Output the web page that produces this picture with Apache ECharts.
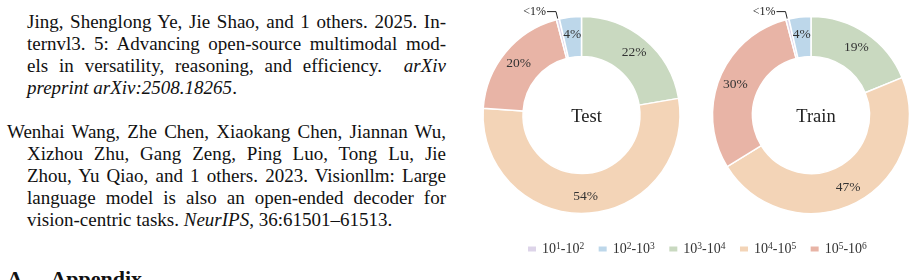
<!DOCTYPE html>
<html>
<head>
<meta charset="utf-8">
<script src="https://cdn.jsdelivr.net/npm/echarts@6/dist/echarts.min.js"></script>
<style>
  html, body { margin: 0; padding: 0; background: #fff; }
  body { width: 915px; height: 280px; position: relative; overflow: hidden; }
  .txt { position: absolute; font-family: "Liberation Serif", "Times New Roman", serif; font-size: 19px; color: #111; }
  .ln { height: 22px; line-height: 22px; white-space: nowrap; text-align: justify; text-align-last: justify; }
  .ln.last { text-align-last: left; }
  .ln.indent { margin-left: 20px; }
  #heading { position: absolute; left: 7px; top: 266px; font-family: "Liberation Serif", serif; font-weight: bold; font-size: 22px; color: #111; white-space: nowrap; }
  #chart { position: absolute; left: 460px; top: 0; width: 455px; height: 280px; }
</style>
</head>
<body>
<div class="txt" style="left:27px; top:11px; width:419px;">
  <div class="ln">Jing, Shenglong Ye, Jie Shao, and 1 others. 2025. In-</div>
  <div class="ln">ternvl3. 5: Advancing open-source multimodal mod-</div>
  <div class="ln">els in versatility, reasoning, and efficiency. &nbsp;<i>arXiv</i></div>
  <div class="ln last"><i>preprint arXiv:2508.18265</i>.</div>
</div>
<div class="txt" style="left:7px; top:121px; width:439px;">
  <div class="ln">Wenhai Wang, Zhe Chen, Xiaokang Chen, Jiannan Wu,</div>
  <div class="ln indent">Xizhou Zhu, Gang Zeng, Ping Luo, Tong Lu, Jie</div>
  <div class="ln indent">Zhou, Yu Qiao, and 1 others. 2023. Visionllm: Large</div>
  <div class="ln indent">language model is also an open-ended decoder for</div>
  <div class="ln indent last">vision-centric tasks. <i>NeurIPS</i>, 36:61501–61513.</div>
</div>
<div id="heading">A&nbsp;&nbsp;&nbsp;&nbsp;&nbsp;Appendix</div>
<div id="chart"></div>
<script>
// ---- data ----
const categories = ['10^1-10^2', '10^2-10^3', '10^3-10^4', '10^4-10^5', '10^5-10^6'];
const testValues = [0.5, 3.6, 22.3, 53.8, 19.8];
const trainValues = [0.5, 3.6, 18.8, 47.4, 29.7];
const panelTitles = ['Test', 'Train'];
const colors = ['#ddd4e9', '#bdd7ea', '#c9d9c0', '#f3d4b7', '#e8b4a6'];
// clockwise drawing order starting at 12 o'clock
const drawOrder = [2, 3, 4, 0, 1];

const FONT = '"Liberation Serif", "Times New Roman", serif';
const centers = [[121.5, 115], [351, 115]];

function buildData(values) {
  return drawOrder.map(i => {
    const item = { name: categories[i], value: values[i], itemStyle: { color: colors[i] } };
    if (values[i] < 1) {
      item.label = { show: true, position: 'outside', fontSize: 12, color: '#222', distanceToLabelLine: 1 };
      item.labelLine = { show: true, length: 8, length2: 9, smooth: false, lineStyle: { color: '#222', width: 1 } };
    }
    return item;
  });
}

const series = [testValues, trainValues].map((vals, k) => ({
  type: 'pie',
  center: centers[k],
  radius: [58.5, 98.5],
  startAngle: 90,
  clockwise: true,
  avoidLabelOverlap: false,
  silent: true,
  itemStyle: { borderColor: '#fff', borderWidth: 1.5 },
  label: {
    show: true,
    position: 'inside',
    fontFamily: FONT,
    fontSize: 13.5,
    color: '#333',
    formatter: p => (p.value < 1 ? '<1%' : Math.round(p.value) + '%')
  },
  labelLine: { show: false },
  emphasis: { disabled: true },
  data: buildData(vals)
}));

const chart = echarts.init(document.getElementById('chart'), null, { renderer: 'canvas' });
chart.setOption({
  animation: false,
  textStyle: { fontFamily: FONT },
  title: panelTitles.map((t, k) => ({
    text: t,
    left: centers[k][0],
    top: centers[k][1] - 12,
    textAlign: 'center',
    textStyle: { fontFamily: FONT, fontSize: 18.5, fontWeight: 'normal', color: '#222' }
  })),
  legend: {
    data: categories,
    left: 61,
    top: 236,
    itemWidth: 10,
    itemHeight: 7,
    itemGap: 12.5,
    icon: 'rect',
    selectedMode: false,
    formatter: name => name.replace(/\^(\d)/g, '{sup|$1}'),
    textStyle: {
      fontFamily: FONT,
      fontSize: 14,
      color: '#333',
      lineHeight: 16,
      rich: {
        sup: { fontFamily: FONT, fontSize: 9.5, lineHeight: 9, verticalAlign: 'top', color: '#333' }
      }
    }
  },
  series: series
});
</script>
</body>
</html>
